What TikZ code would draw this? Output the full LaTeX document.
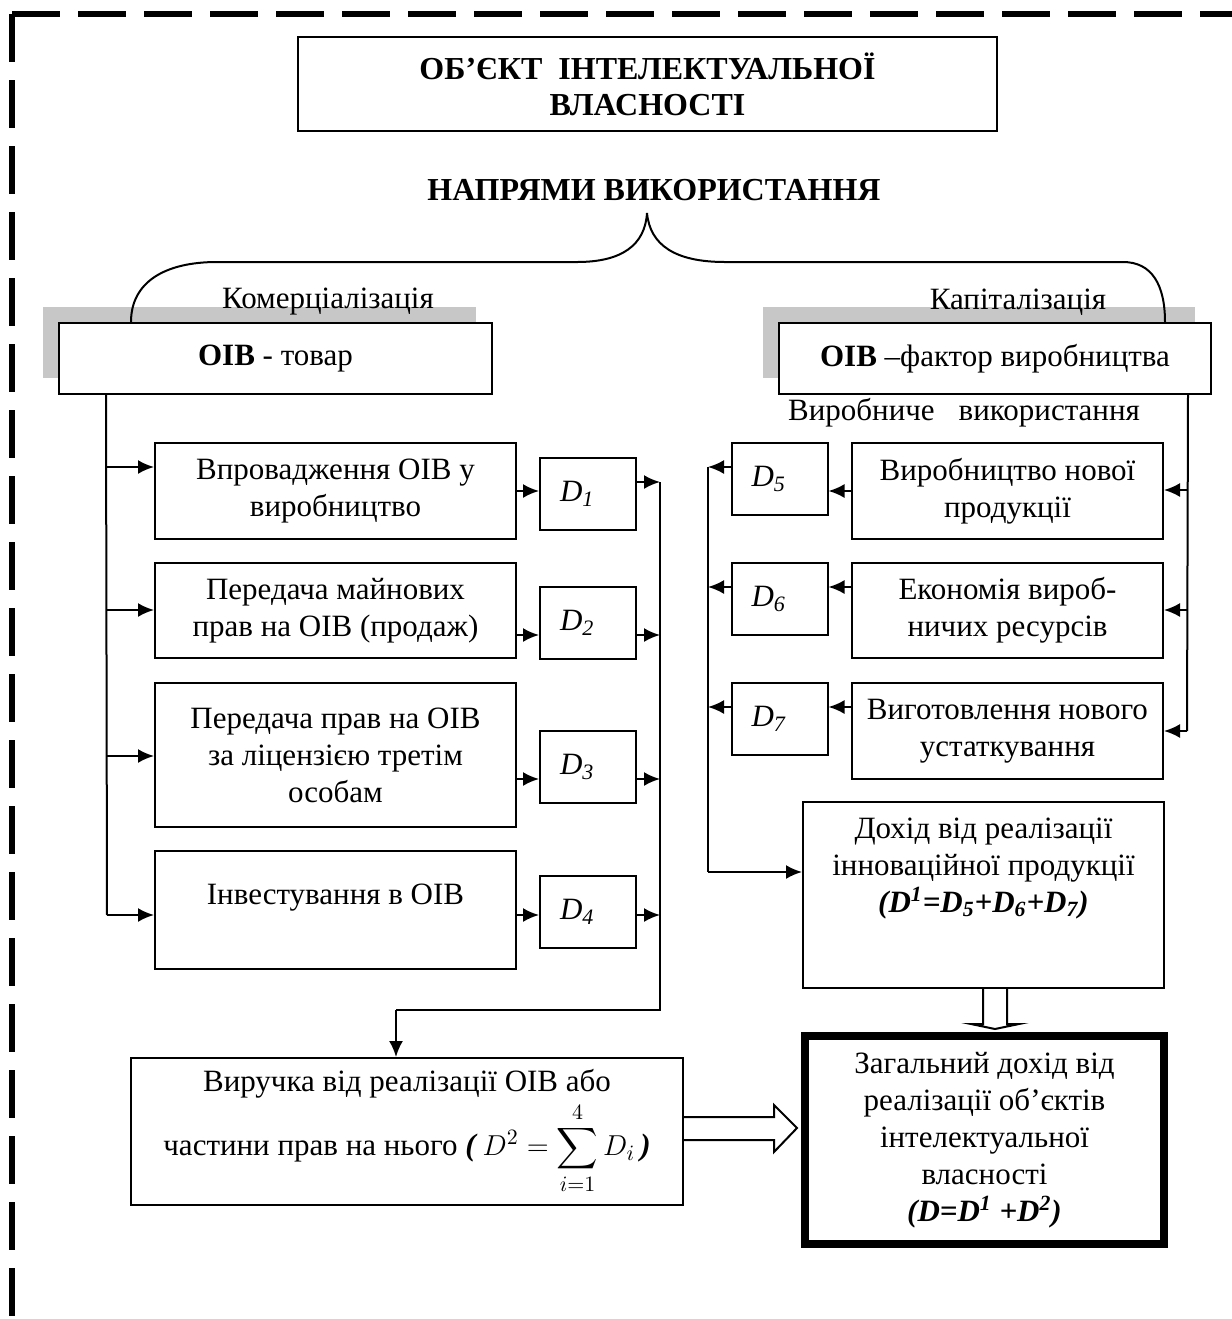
\documentclass[tikz,border=0pt]{standalone}
\usepackage{amsmath}
\usepackage{fontspec}
\setmainfont{Liberation Serif}
\usetikzlibrary{arrows.meta,calc}
\newcommand\bodyfont{\fontsize{15.5}{18.5}\selectfont}
\newcommand\DLab[1]{\textit{D}\raisebox{-0.35ex}{\fontsize{11}{11}\selectfont\textit{#1}}}
\begin{document}
\begin{tikzpicture}[x=0.5pt,y=-0.5pt,font=\bodyfont,
  box/.style={draw,line width=1pt,inner sep=0pt,align=center,fill=white},
  dbox/.style={draw,line width=1pt,minimum width=48pt,minimum height=36pt,inner xsep=10pt,inner ysep=0pt,text width=28pt,align=left},
  arr/.style={line width=1pt,-{Latex[length=8pt,width=7pt]}},
  ln/.style={line width=1pt},
  shadowbox/.style={fill=black!22,draw=none,inner sep=0pt},
  bord/.style={line width=3pt,dash pattern=on 24pt off 9pt}]
\useasboundingbox (0,0) rectangle (1232,1319);
% border
\draw[bord] (12,14) -- (12,1340);
\draw[bord] (12,14) -- (1250,14);
% title
\node[box,minimum width=349.5pt,minimum height=47pt,font=\fontsize{16}{18}\selectfont\bfseries] (title) at (647.5,84) {ОБ’ЄКТ\ \ ІНТЕЛЕКТУАЛЬНОЇ\\ВЛАСНОСТІ};
\node[font=\fontsize{16}{18}\selectfont\bfseries] (head) at (654,190) {НАПРЯМИ ВИКОРИСТАННЯ};
% shadows
\node[shadowbox,minimum width=216.5pt,minimum height=35.5pt] (shL) at (259.5,342.5) {};
\node[shadowbox,minimum width=216pt,minimum height=35.5pt] (shR) at (979,342.5) {};
\node (kom) at (328,302) {Комерціалізація};
\node (kap) at (1018,302) {Капіталізація};
% brace
\coordinate (cusp) at (647,213);
\coordinate (bl) at (131,322);
\coordinate (br) at (1165,322);
\draw[ln] (bl) .. controls (131,282) and (165,262) .. (217,262) -- (577,262) .. controls (622,262) and (645,245) .. (cusp);
\draw[ln] (cusp) .. controls (650,245) and (675,262) .. (725,262) -- (1123,262) .. controls (1152,262) and (1165,285) .. (br);
% main boxes
\node[box,minimum width=216.5pt,minimum height=35.5pt] (tovar) at (275.5,358.5) {\textbf{ОІВ} - товар};
\node[box,minimum width=216pt,minimum height=35.5pt] (faktor) at (995,358.5) {\textbf{ОІВ} –фактор виробництва};
\node (vyrob) at (964,413) {Виробниче\hspace{12pt}використання};
% left column
\node[box,minimum width=180.5pt,minimum height=48pt] (L1) at (335.5,491) {Впровадження ОІВ у\\виробництво};
\node[box,minimum width=180.5pt,minimum height=47.5pt] (L2) at (335.5,610.5) {Передача майнових\\прав на ОІВ (продаж)};
\node[box,minimum width=180.5pt,minimum height=72pt] (L3) at (335.5,755) {Передача прав на ОІВ\\за ліцензією третім\\особам};
\node[box,minimum width=180.5pt,minimum height=59pt] (L4) at (335.5,910) {Інвестування в ОІВ\rule[-16pt]{0pt}{0pt}};
\node[dbox] (D1) at (588,494) {\DLab{1}};
\node[dbox] (D2) at (588,623) {\DLab{2}};
\node[dbox] (D3) at (588,767) {\DLab{3}};
\node[dbox] (D4) at (588,911.5) {\DLab{4}};
% right column
\node[box,minimum width=155.5pt,minimum height=48pt] (R5) at (1007.5,491) {Виробництво нової\\продукції};
\node[box,minimum width=155.5pt,minimum height=47.5pt] (R6) at (1007.5,610.5) {Економія вироб-\\ничих ресурсів};
\node[box,minimum width=155.5pt,minimum height=48pt] (R7) at (1007.5,731) {Виготовлення нового\\устаткування};
\node[dbox] (D5) at (779.5,479) {\DLab{5}};
\node[dbox] (D6) at (779.5,599) {\DLab{6}};
\node[dbox] (D7) at (779.5,719) {\DLab{7}};
% results
\node[box,minimum width=180.5pt,minimum height=93pt] (doh) at (983.5,895) {Дохід від реалізації\\інноваційної продукції\\\textbf{\textit{(D\textsuperscript{1}=D\textsubscript{5}+D\textsubscript{6}+D\textsubscript{7})}}\rule[-30pt]{0pt}{0pt}};
\node[box,minimum width=276pt,minimum height=73.5pt] (vyr) at (407,1131.5) {Виручка від реалізації ОІВ або\\[1.5pt]частини прав на нього \textbf{\textit{(}}\,$\displaystyle D^{2}=\sum_{i=1}^{4}D_{i}$\,\textbf{\textit{)}}};
\node[box,line width=4pt,minimum width=179.5pt,minimum height=104pt] (zag) at (984.5,1140) {Загальний дохід від\\реалізації об’єктів\\інтелектуальної\\власності\\\textbf{\textit{(D=D\textsuperscript{1} +D\textsuperscript{2})}}};
% left trunk
\coordinate (t1) at (107,467);
\coordinate (t2) at (107,610);
\coordinate (t3) at (107,756);
\coordinate (t4) at (107,915);
\draw[ln] ($(tovar.south west)+(48,0)$) -- (t4);
\draw[arr] (t1) -- (t1 -| L1.west);
\draw[arr] (t2) -- (t2 -| L2.west);
\draw[arr] (t3) -- (t3 -| L3.west);
\draw[arr] (t4) -- (t4 -| L4.west);
\draw[arr] (L1.east) -- (L1.east -| D1.west);
\draw[arr] ($(L2.east)+(0,24.5)$) coordinate (a2) -- (a2 -| D2.west);
\draw[arr] ($(L3.east)+(0,24)$) coordinate (a3) -- (a3 -| D3.west);
\draw[arr] ($(L4.east)+(0,5)$) coordinate (a4) -- (a4 -| D4.west);
% collecting line
\coordinate (rl1) at (660,482);
\coordinate (rlb) at (660,1010);
\coordinate (rlc) at (396,1010);
\draw[arr] ($(D1.east)+(0,-12)$) coordinate (b1) -- (b1 -| rl1);
\draw[arr] ($(D2.east)+(0,12)$) coordinate (b2) -- (b2 -| rl1);
\draw[arr] ($(D3.east)+(0,12)$) coordinate (b3) -- (b3 -| rl1);
\draw[arr] ($(D4.east)+(0,3.5)$) coordinate (b4) -- (b4 -| rl1);
\draw[ln] (rl1) -- (rlb) -- (rlc);
\draw[arr] (rlc) -- (rlc |- vyr.north);
% right trunk
\coordinate (s5) at (1187,490);
\coordinate (s6) at (1187,610);
\coordinate (s7) at (1187,731);
\draw[ln] ($(faktor.south east)+(-24,0)$) -- (s7);
\draw[arr] (s5) -- (s5 -| R5.east);
\draw[arr] (s6) -- (s6 -| R6.east);
\draw[arr] (s7) -- (s7 -| R7.east);
\draw[arr] (R5.west) -- (R5.west -| D5.east);
\draw[arr] ($(R6.west)+(0,-23.5)$) coordinate (c6) -- (c6 -| D6.east);
\draw[arr] ($(R7.west)+(0,-24)$) coordinate (c7) -- (c7 -| D7.east);
% right collecting line
\coordinate (q1) at (708,467);
\coordinate (q2) at (708,872);
\draw[arr] ($(D5.west)+(0,-12)$) coordinate (e5) -- (e5 -| q1);
\draw[arr] ($(D6.west)+(0,-12)$) coordinate (e6) -- (e6 -| q1);
\draw[arr] ($(D7.west)+(0,-12)$) coordinate (e7) -- (e7 -| q1);
\draw[ln] (q1) -- (q2);
\draw[arr] (q2) -- (q2 -| doh.west);
% block arrows
\draw[line width=1pt,fill=white,line join=miter] ($(doh.south)+(-0.5,0)$) -- ++(0,35) -- ++(-12,0) -- ($(zag.north)+(10.5,-3)$) -- ($(doh.south)+(35.5,35)$) -- ++(-12,0) -- ($(doh.south)+(23.5,0)$);
\draw[line width=1pt,fill=white,line join=miter] ($(vyr.east)+(0,-14.5)$) -- ++(90,0) -- ++(0,-12) -- ($(zag.west)+(-4,-12)$) -- ($(vyr.east)+(90,20.5)$) -- ++(0,-12) -- ($(vyr.east)+(0,8.5)$);
\end{tikzpicture}
\end{document}
